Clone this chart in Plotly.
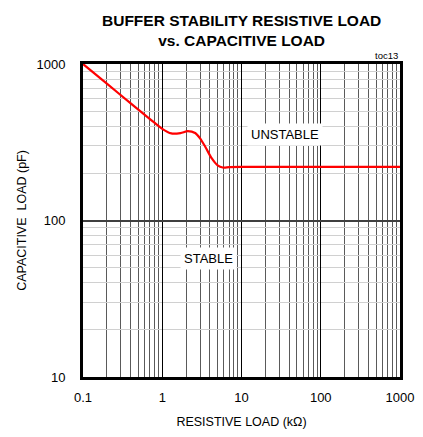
import math
import plotly.graph_objects as go

# Data
res_kohm = [0.1, 0.2, 0.4, 0.7, 1.0, 1.3, 1.7, 2.1, 2.6, 3.0, 3.5, 4.2, 5.0, 5.8, 7.0, 10, 100, 1000]
cap_pf = [1000, 750, 560, 445, 385, 360, 362, 372, 362, 335, 295, 250, 225, 218, 219, 220, 220, 220]

x_tick_vals = [0.1, 1, 10, 100, 1000]
x_tick_text = ["0.1", "1", "10", "100", "1000"]
y_tick_vals = [10, 100, 1000]
y_tick_text = ["10", "100", "1000"]

FONT = "Liberation Sans, Arial, sans-serif"

# page body has an 8px margin; plot area in page: x 83-400, y 64-377
fig = go.Figure()
fig.add_trace(go.Scatter(
    x=res_kohm, y=cap_pf, mode="lines",
    line=dict(color="#ff0000", width=2.2, shape="spline", smoothing=0.8),
    showlegend=False, hoverinfo="skip",
))

fig.update_layout(
    width=423, height=437,
    margin=dict(l=75, r=31, t=56, b=68, autoexpand=False),
    paper_bgcolor="white", plot_bgcolor="white",
    font=dict(family=FONT, size=12, color="black"),
    xaxis=dict(
        type="log", range=[-1, 3], automargin=False,
        tickvals=x_tick_vals, ticktext=x_tick_text,
        ticks="", showline=True, mirror=True, linecolor="black", linewidth=3,
        showgrid=True, gridcolor="black", gridwidth=1.4,
        minor=dict(showgrid=True, gridcolor="#5a5a5a", gridwidth=1.3, dtick="D1", ticks=""),
        title=dict(text="RESISTIVE LOAD (kΩ)", font=dict(size=12.5), standoff=14),
        tickfont=dict(size=13), ticklabelstandoff=6,
        zeroline=False,
    ),
    yaxis=dict(
        type="log", range=[1, 3], automargin=False,
        tickvals=y_tick_vals, ticktext=y_tick_text,
        ticks="", showline=True, mirror=True, linecolor="black", linewidth=3,
        showgrid=True, gridcolor="#404040", gridwidth=1.5,
        minor=dict(showgrid=True, gridcolor="#d0d0d0", gridwidth=1.4, dtick="D1", ticks=""),
        title=dict(text="CAPACITIVE  LOAD (pF)", font=dict(size=12.5), standoff=8),
        tickfont=dict(size=13), ticklabelstandoff=12,
        zeroline=False,
    ),
)

fig.add_annotation(
    x=0.5, y=1 + 54 / 313, xref="paper", yref="paper", xanchor="center", yanchor="top",
    text="<b>BUFFER STABILITY RESISTIVE LOAD<br>vs. CAPACITIVE LOAD</b>",
    showarrow=False, font=dict(family=FONT, size=15.5, color="black"),
)
fig.add_annotation(
    x=math.log10(35), y=math.log10(357), xref="x", yref="y",
    text="UNSTABLE", showarrow=False, bgcolor="white",
    font=dict(size=13, color="black"), borderpad=3,
)
fig.add_annotation(
    x=math.log10(3.8), y=math.log10(57), xref="x", yref="y",
    text="STABLE", showarrow=False, bgcolor="white",
    font=dict(size=13, color="black"), borderpad=3,
)
fig.add_annotation(
    x=1, y=1, xref="paper", yref="paper", xanchor="right", yanchor="bottom",
    text="toc13", showarrow=False, font=dict(size=9.5, color="black"), yshift=1,
)

fig.write_html("out.html")
